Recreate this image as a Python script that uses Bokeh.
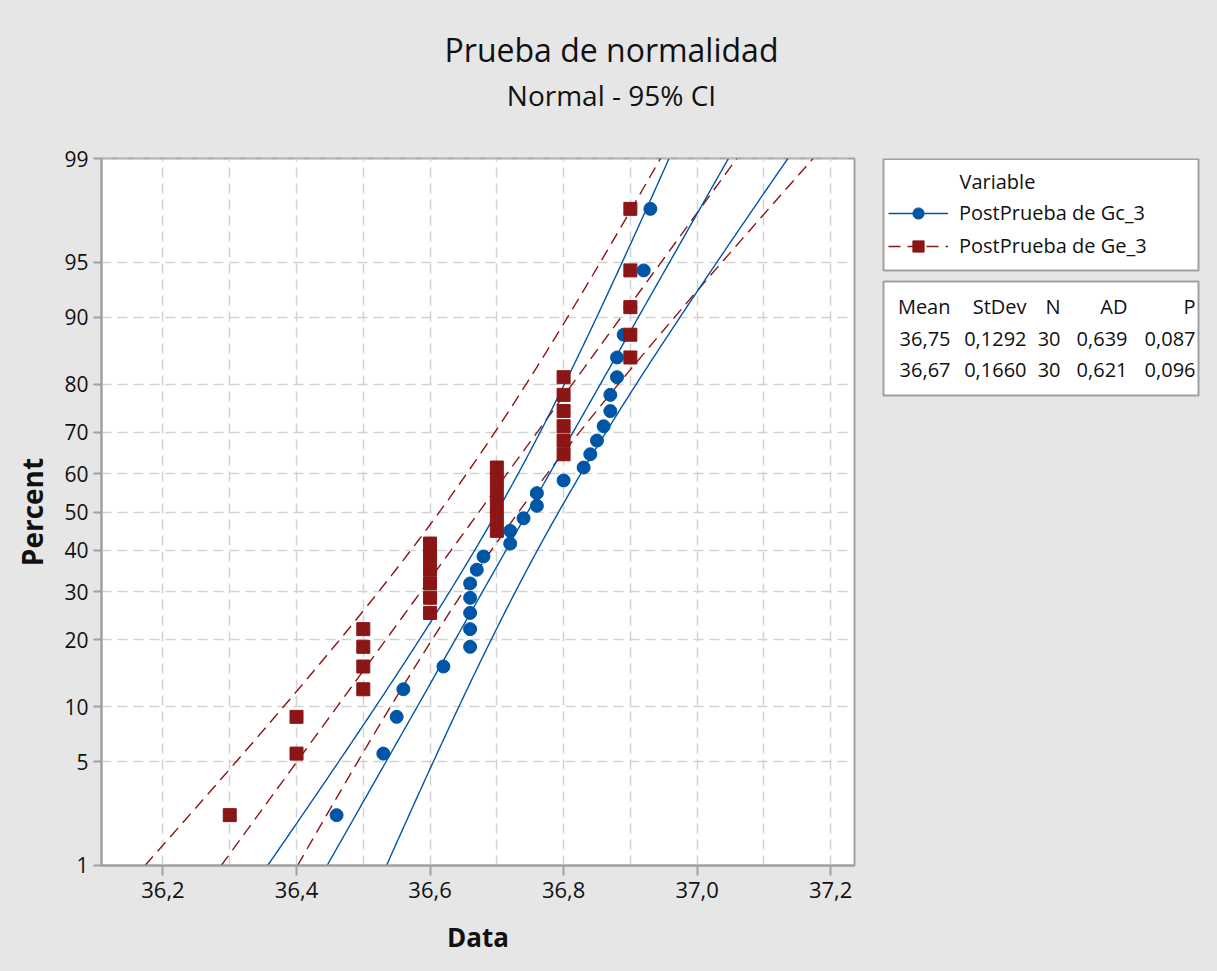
import numpy as np
from statistics import NormalDist
from bokeh.plotting import figure
from bokeh.layouts import column, row
from bokeh.models import (Range1d, FixedTicker, CustomJSTickFormatter,
                          Legend, LegendItem)
from bokeh.core.properties import value
from bokeh.embed import file_html
from bokeh.resources import INLINE

# ---------------- data ----------------
gc3_values = [36.46, 36.53, 36.55, 36.56, 36.62, 36.66, 36.66, 36.66, 36.66, 36.66,
              36.67, 36.68, 36.72, 36.72, 36.74, 36.76, 36.76, 36.80, 36.83, 36.84,
              36.85, 36.86, 36.87, 36.87, 36.88, 36.88, 36.89, 36.90, 36.92, 36.93]
ge3_values = [36.3, 36.4, 36.4, 36.5, 36.5, 36.5, 36.5,
              36.6, 36.6, 36.6, 36.6, 36.6, 36.6,
              36.7, 36.7, 36.7, 36.7, 36.7, 36.7,
              36.8, 36.8, 36.8, 36.8, 36.8, 36.8,
              36.9, 36.9, 36.9, 36.9, 36.9]
series_names = ["PostPrueba de Gc_3", "PostPrueba de Ge_3"]
series_colors = ["#0056a6", "#8c1515"]
series_markers = ["circle", "square"]
series_dashes = ["solid", "12 7"]
ad_values = ["0,639", "0,621"]
p_values = ["0,087", "0,096"]
stats_header = ["Mean", "StDev", "N", "AD", "P"]
percent_ticks = [1, 5, 10, 20, 30, 40, 50, 60, 70, 80, 90, 95, 99]
x_ticks = [36.2, 36.4, 36.6, 36.8, 37.0, 37.2]
x_grid_ticks = [36.2, 36.3, 36.4, 36.5, 36.6, 36.7, 36.8, 36.9, 37.0, 37.1, 37.2]

title_text = "Prueba de normalidad"
subtitle_text = "Normal - 95% CI"
legend_title = "Variable"

FONT = "Open Sans"
GRAY = "#a0a0a0"
BG = "#e6e6e6"
TXT = "#111111"

nd = NormalDist()


def fmt(v, d):
    return f"{v:.{d}f}".replace(".", ",")


z_ticks = [nd.inv_cdf(q / 100.0) for q in percent_ticks]
z_lo, z_hi = z_ticks[0], z_ticks[-1]

TOTAL_W, TOTAL_H = 1217, 971
TOP_H = 120
MAIN_W = 858
SIDE_W = TOTAL_W - MAIN_W
ROW_H = TOTAL_H - TOP_H
FRAME_TOP, FRAME_BOTTOM = 158, 865          # page pixels
BORDER_TOP = FRAME_TOP - TOP_H
BORDER_BOTTOM = TOTAL_H - FRAME_BOTTOM

# ---------------- title strip ----------------
pt = figure(width=TOTAL_W, height=TOP_H, x_range=Range1d(0, TOTAL_W), y_range=Range1d(TOP_H, 0),
            x_axis_type=None, y_axis_type=None, output_backend="svg", toolbar_location=None,
            min_border=0, title=None)
pt.outline_line_color = None
pt.background_fill_color = BG
pt.border_fill_color = BG
pt.text(x=[611], y=[49], text=[title_text], text_font=value(FONT), text_font_size=value("32px"),
        text_color=TXT, text_align="center", text_baseline="middle")
pt.text(x=[611], y=[94], text=[subtitle_text], text_font=value(FONT), text_font_size=value("28px"),
        text_color=TXT, text_align="center", text_baseline="middle")

# ---------------- main probability plot ----------------
p = figure(width=MAIN_W, height=ROW_H, title=None,
           x_range=Range1d(36.1079, 37.2357),
           y_range=Range1d(z_lo - 1e-6, z_hi + 1e-6),
           output_backend="svg", toolbar_location=None,
           min_border_left=101, min_border_right=4,
           min_border_top=BORDER_TOP, min_border_bottom=BORDER_BOTTOM)

p.background_fill_color = "white"
p.border_fill_color = BG
p.outline_line_color = GRAY
p.outline_line_width = 2

p.xaxis.ticker = FixedTicker(ticks=x_ticks)
p.xaxis.formatter = CustomJSTickFormatter(code="return tick.toFixed(1).replace('.', ',');")
p.yaxis.ticker = FixedTicker(ticks=z_ticks)
p.yaxis.formatter = CustomJSTickFormatter(
    args=dict(zs=z_ticks, labels=[str(v) for v in percent_ticks]),
    code="""
let best = 0, bd = 1e9;
for (let i = 0; i < zs.length; i++) {
  const d = Math.abs(zs[i] - tick);
  if (d < bd) { bd = d; best = i; }
}
return labels[best];
""")
for ax in (p.xaxis[0], p.yaxis[0]):
    ax.axis_line_color = GRAY
    ax.axis_line_width = 2
    ax.major_tick_line_color = GRAY
    ax.major_tick_line_width = 2
    ax.major_tick_in = 0
    ax.minor_tick_line_color = None
    ax.major_label_text_font = FONT
    ax.major_label_text_color = TXT
    ax.axis_label_text_font = FONT
    ax.axis_label_text_font_style = "bold"
    ax.axis_label_text_color = TXT

p.xaxis.axis_label = "Data"
p.xaxis.major_tick_out = 10
p.xaxis.major_label_standoff = 6
p.xaxis.major_label_text_font_size = "22px"
p.xaxis.axis_label_text_font_size = "26px"
p.xaxis.axis_label_standoff = 18

p.yaxis.axis_label = "Percent"
p.yaxis.major_tick_out = 8
p.yaxis.major_label_standoff = 5
p.yaxis.major_label_text_font_size = "21px"
p.yaxis.axis_label_text_font_size = "28px"
p.yaxis.axis_label_standoff = 10

p.xgrid.ticker = FixedTicker(ticks=x_grid_ticks)
p.ygrid.ticker = FixedTicker(ticks=z_ticks)
for g in (p.xgrid[0], p.ygrid[0]):
    g.grid_line_color = "#d2d2d2"
    g.grid_line_width = 1.5
    g.grid_line_dash = "10 6"

# fitted lines with 95% confidence bands
zz = np.linspace(z_lo, z_hi, 140)
zc = nd.inv_cdf(0.975)
all_values = [gc3_values, ge3_values]
for k in (1, 0):
    vals = np.array(all_values[k])
    n = len(vals)
    mu = vals.mean()
    s = vals.std(ddof=1)
    fit = mu + zz * s
    hw = zc * s * np.sqrt(1.0 / n + zz ** 2 / (2.0 * n))
    kw = dict(line_color=series_colors[k], line_width=1.4, line_dash=series_dashes[k])
    p.line(fit, zz, **kw)
    p.line(fit - hw, zz, **kw)
    p.line(fit + hw, zz, **kw)

# data points at median-rank plotting positions
for k in (0, 1):
    vals = np.sort(np.array(all_values[k]))
    n = len(vals)
    ranks = np.arange(1, n + 1)
    pp = (ranks - 0.3) / (n + 0.4)
    ys = [nd.inv_cdf(q) for q in pp]
    p.scatter(vals, ys, marker=series_markers[k], size=13,
              fill_color=series_colors[k], line_color=series_colors[k])

stats_rows = []
for k in (0, 1):
    vals = np.array(all_values[k])
    stats_rows.append([fmt(vals.mean(), 2), fmt(vals.std(ddof=1), 4), str(len(vals)),
                       ad_values[k], p_values[k]])

# ---------------- side panel: legend + statistics (page-pixel coordinates) ----------------
ps = figure(width=SIDE_W, height=ROW_H,
            x_range=Range1d(MAIN_W, TOTAL_W), y_range=Range1d(FRAME_BOTTOM, FRAME_TOP),
            x_axis_type=None, y_axis_type=None, output_backend="svg", toolbar_location=None,
            min_border_left=0, min_border_right=0,
            min_border_top=BORDER_TOP, min_border_bottom=BORDER_BOTTOM, title=None)
ps.outline_line_color = None
ps.background_fill_color = BG
ps.border_fill_color = BG

ps.quad(left=[883, 883], right=[1198, 1198], top=[158.5, 281], bottom=[270, 395],
        fill_color="white", line_color=GRAY, line_width=2)
ps.text(x=[959], y=[181], text=[legend_title], text_font=value(FONT), text_font_size=value("20px"),
        text_color=TXT, text_align="left", text_baseline="middle")

# legend proxies: one point each, placed off the visible side-panel range
items = []
for k in (0, 1):
    rl = ps.line(x=[0, 1], y=[0, 0], line_color=series_colors[k], line_width=1.6,
                 line_dash=series_dashes[k])
    rm = ps.scatter(x=[0], y=[0], marker=series_markers[k], size=12,
                    fill_color=series_colors[k], line_color=series_colors[k])
    items.append(LegendItem(label=series_names[k], renderers=[rl, rm], index=0))
legend = Legend(items=items, location=(30, FRAME_BOTTOM - 262),
                label_text_font=FONT, label_text_font_size="20px", label_text_color=TXT,
                glyph_width=60, glyph_height=28, label_height=33, label_width=225,
                label_standoff=11, padding=0, spacing=0, margin=0,
                border_line_color=None, background_fill_alpha=0.0)
ps.add_layout(legend)

col_right = [950, 1026, 1060, 1127, 1195]
row_y = [306, 338, 369]
table = [stats_header] + stats_rows
tx, ty, tt = [], [], []
for r, cells in enumerate(table):
    for c, txt in enumerate(cells):
        tx.append(col_right[c])
        ty.append(row_y[r])
        tt.append(txt)
ps.text(x=tx, y=ty, text=tt, text_font=value(FONT), text_font_size=value("20px"),
        text_color=TXT, text_align="right", text_baseline="middle")

layout = column(pt, row(p, ps, styles={"background-color": BG}),
                styles={"background-color": BG})
open("out.html", "w").write(file_html(layout, INLINE))
